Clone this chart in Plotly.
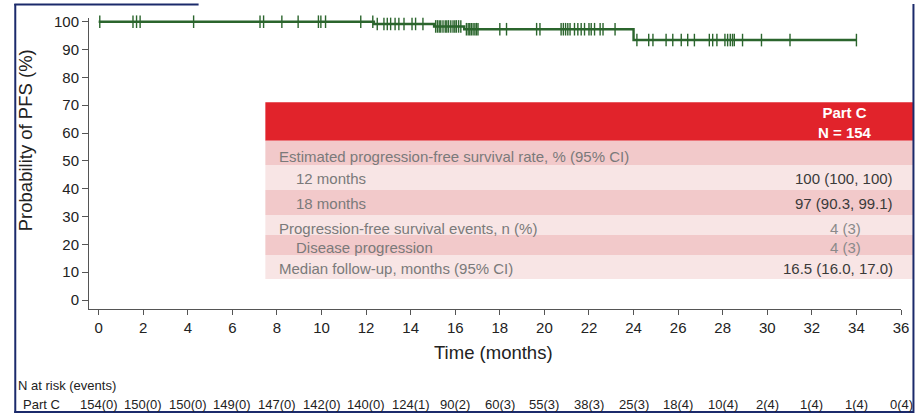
import plotly.graph_objects as go

# Kaplan-Meier step function: times where the estimate changes and the PFS (%) after each change
step_times = [0.0, 12.35, 15.05, 16.40, 24.00]
step_surv = [100.0, 99.2, 98.3, 97.3, 93.4]
last_followup = 34.0

# Censoring times (months)
censor_times = [
    0.05, 1.54, 1.70, 1.86, 4.26, 7.24, 7.40, 8.22, 8.95, 9.86, 9.97, 10.18, 11.76, 12.30,
    12.50, 12.80, 12.95, 13.10, 13.30, 13.47, 13.70, 14.06, 14.22, 14.55,
    15.12, 15.20, 15.28, 15.35, 15.45, 15.55, 15.62, 15.70, 15.80, 15.90, 15.98, 16.05, 16.15, 16.25,
    16.50, 16.58, 16.65, 16.72, 16.80, 16.88, 16.95, 17.02,
    18.00, 18.30, 19.65, 19.80, 20.75, 20.85, 20.95, 21.05, 21.15, 21.35, 21.50, 21.65, 21.80,
    22.00, 22.10, 22.25, 22.50, 22.63, 23.17,
    24.15, 24.68, 24.87, 25.46, 25.76, 26.14, 26.43, 26.73, 27.40, 27.55, 27.74, 28.10, 28.22,
    28.34, 28.44, 28.52, 28.89, 29.74, 31.02, 34.00,
]

# Number at risk table
risk_times = list(range(0, 37, 2))
n_at_risk = [154, 150, 150, 149, 147, 142, 140, 124, 90, 60, 55, 38, 25, 18, 10, 2, 1, 1, 0]
n_events = [0, 0, 0, 0, 0, 0, 0, 1, 2, 3, 3, 3, 3, 4, 4, 4, 4, 4, 4]

# Summary table
table_labels = [
    "Estimated progression-free survival rate, % (95% CI)",
    "12 months",
    "18 months",
    "Progression-free survival events, n (%)",
    "Disease progression",
    "Median follow-up, months (95% CI)",
]
table_indent = [False, True, True, False, True, False]
table_values = ["", "100 (100, 100)", "97 (90.3, 99.1)", "4 (3)", "4 (3)", "16.5 (16.0, 17.0)"]
header_text = "Part C<br>N = 154"

FONT = "Arial, Liberation Sans, sans-serif"
GREEN = "#2b652d"
NAVY = "#1b2a6b"
AXIS = "#555555"

W, H = 921, 413
L, R, T, B = 89, 17, 18, 104
PW, PH = W - L - R, H - T - B


def px(x):
    return (x - L) / PW


def py(y):
    return 1 - (y - T) / PH


def surv_at(t):
    s = step_surv[0]
    for st, sv in zip(step_times, step_surv):
        if t >= st:
            s = sv
    return s


curve_x = step_times + [last_followup]
curve_y = step_surv + [step_surv[-1]]

fig = go.Figure()
fig.add_trace(go.Scatter(
    x=curve_x, y=curve_y, mode="lines", line=dict(color=GREEN, width=2.4, shape="hv"),
    hoverinfo="skip", showlegend=False,
))
fig.add_trace(go.Scatter(
    x=censor_times, y=[surv_at(t) for t in censor_times], mode="markers",
    marker=dict(symbol="line-ns", size=9, line=dict(color=GREEN, width=1.4)),
    cliponaxis=False, showlegend=False,
))

shapes = []
annotations = []

# summary table: header band and alternating rows
table_x0, table_x1 = 266, 916
shapes.append(dict(type="rect", xref="paper", yref="paper", x0=px(table_x0), x1=px(table_x1),
                   y0=py(140.7), y1=py(102.3), fillcolor="#e1232b", line=dict(width=0), layer="above"))
row_edges = [140.7, 165, 190, 215, 235, 255, 279]
row_fill = ["#f2c9ca", "#f8e5e5"]
row_text_y = [156, 178, 204, 228, 247, 268]
for i in range(len(table_labels)):
    shapes.append(dict(type="rect", xref="paper", yref="paper", x0=px(table_x0), x1=px(table_x1),
                       y0=py(row_edges[i + 1]), y1=py(row_edges[i]), fillcolor=row_fill[i % 2],
                       line=dict(width=0), layer="above"))
    annotations.append(dict(xref="paper", yref="paper", x=px(295 if table_indent[i] else 278),
                            y=py(row_text_y[i]), text=table_labels[i], showarrow=False,
                            xanchor="left", yanchor="middle",
                            font=dict(family=FONT, size=15, color="#7a7a7a")))
    if table_values[i]:
        if table_values[i].startswith("4 "):
            annotations.append(dict(xref="paper", yref="paper", x=px(848), y=py(row_text_y[i]),
                                    text=table_values[i], showarrow=False, xanchor="center",
                                    yanchor="middle", font=dict(family=FONT, size=15, color="#8a8a8a")))
        else:
            annotations.append(dict(xref="paper", yref="paper", x=px(898), y=py(row_text_y[i]),
                                    text=table_values[i], showarrow=False, xanchor="right",
                                    yanchor="middle", font=dict(family=FONT, size=15, color="#3a3a3a")))
annotations.append(dict(xref="paper", yref="paper", x=px(848), y=py(122),
                        text="<b>" + header_text.replace("<br>", "</b><br><b>") + "</b>",
                        showarrow=False, xanchor="center", yanchor="middle",
                        font=dict(family=FONT, size=15, color="white")))

# axis titles
annotations.append(dict(xref="paper", yref="paper", x=px(25), y=py(140), text="Probability of PFS (%)",
                        textangle=-90, showarrow=False, xanchor="center", yanchor="middle",
                        font=dict(family=FONT, size=18.5, color="#222222")))
annotations.append(dict(xref="paper", yref="paper", x=px(495), y=py(352), text="Time (months)",
                        showarrow=False, xanchor="center", yanchor="middle",
                        font=dict(family=FONT, size=18.5, color="#222222")))

# number at risk
annotations.append(dict(xref="paper", yref="paper", x=px(16), y=py(385), text="N at risk (events)",
                        showarrow=False, xanchor="left", yanchor="middle",
                        font=dict(family=FONT, size=13, color="#222222")))
annotations.append(dict(xref="paper", yref="paper", x=px(21), y=py(404), text="Part C",
                        showarrow=False, xanchor="left", yanchor="middle",
                        font=dict(family=FONT, size=13, color="#222222")))
for t, n, e in zip(risk_times, n_at_risk, n_events):
    annotations.append(dict(xref="x", yref="paper", x=t, y=py(404), text=f"{n}({e})",
                            showarrow=False, xanchor="center", yanchor="middle",
                            font=dict(family=FONT, size=13, color="#222222")))

# slide frame
for x0, y0, x1, y1 in [(15, 4, 15, 413), (14, 4.5, 199, 4.5), (916.5, 4, 916.5, 413), (14, 412, 917, 412)]:
    shapes.append(dict(type="line", xref="paper", yref="paper", x0=px(x0), y0=py(y0), x1=px(x1), y1=py(y1),
                       line=dict(color=NAVY, width=2)))

px_per_month = (904 - 98.7) / 36.0
px_per_pct = 2.783
y_bottom = -(309 - 300) / px_per_pct
y_top = 100 + (21.7 - T) / px_per_pct
x_left = -(98.7 - L) / px_per_month

fig.update_layout(
    width=W, height=H, margin=dict(l=L, r=R, t=T, b=B),
    paper_bgcolor="white", plot_bgcolor="white",
    font=dict(family=FONT, color="#222222"),
    shapes=shapes, annotations=annotations, showlegend=False,
    xaxis=dict(range=[x_left, 36], tickmode="array", tickvals=risk_times, ticks="outside", ticklen=5,
               tickcolor=AXIS, showline=True, linecolor=AXIS, linewidth=1, showgrid=False, zeroline=False,
               tickfont=dict(family=FONT, size=15, color="#222222")),
    yaxis=dict(range=[y_bottom, y_top], tickmode="array", tickvals=list(range(0, 101, 10)), ticks="outside",
               ticklen=6, tickcolor=AXIS, showline=True, linecolor=AXIS, linewidth=1, showgrid=False,
               zeroline=False, tickfont=dict(family=FONT, size=15, color="#222222")),
)

fig.write_html("out.html")
